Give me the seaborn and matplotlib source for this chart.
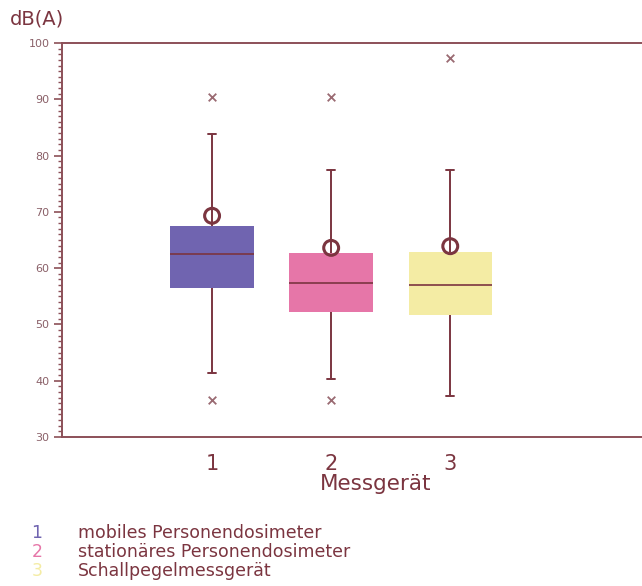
import matplotlib
matplotlib.use("Agg")
import matplotlib.pyplot as plt
from matplotlib.ticker import MultipleLocator
import seaborn as sns
import pandas as pd

sns.set_theme(style="white")
plt.rcParams["font.family"] = ["DejaVu Sans"]

# Summary statistics per measuring device (dB(A))
devices = ["1", "2", "3"]
device_names = ["mobiles Personendosimeter",
                "stationäres Personendosimeter",
                "Schallpegelmessgerät"]
whisker_low = [41.4, 40.3, 37.3]
q1 = [56.5, 52.2, 51.7]
median = [62.5, 57.4, 57.0]
q3 = [67.5, 62.7, 62.9]
whisker_high = [83.8, 77.4, 77.4]
means = [69.3, 63.6, 63.9]
outlier_device = ["1", "1", "2", "2", "3"]
outlier_value = [90.4, 36.6, 90.4, 36.6, 97.3]

box_colors = ["#7064b0", "#e676a8", "#f4eca4"]
line_color = "#7b3540"
spine_color = "#8c5058"
tick_color = "#8a6068"

fig = plt.figure(figsize=(6.42, 5.86), dpi=100)
ax = fig.add_axes([0.0966, 0.2543, 0.9034, 0.6723])

stats = []
for i, d in enumerate(devices):
    stats.append(dict(label=d, whislo=whisker_low[i], q1=q1[i], med=median[i],
                      q3=q3[i], whishi=whisker_high[i], fliers=[]))
pos = list(range(len(devices)))
bp = ax.bxp(stats, positions=pos, widths=0.7, patch_artist=True,
            showfliers=False, manage_ticks=False,
            boxprops=dict(linewidth=0),
            medianprops=dict(color=line_color, linewidth=1.2),
            whiskerprops=dict(color=line_color, linewidth=1.4),
            capprops=dict(color=line_color, linewidth=1.4),
            capwidths=0.07)
for patch, c in zip(bp["boxes"], box_colors):
    patch.set_facecolor(c)
    patch.set_edgecolor(c)
for w in bp["whiskers"]:
    w.set_zorder(1)
for m in bp["medians"]:
    m.set_zorder(3)

mean_df = pd.DataFrame({"pos": pos, "mean": means})
sns.scatterplot(data=mean_df, x="pos", y="mean", ax=ax, marker="o", s=115,
                facecolor="none", edgecolor=line_color, linewidth=2.2,
                zorder=4, legend=False)

out_df = pd.DataFrame({"pos": [devices.index(d) for d in outlier_device],
                       "value": outlier_value})
sns.scatterplot(data=out_df, x="pos", y="value", ax=ax, marker="x", s=30,
                color="#9a6a72", linewidth=1.3, zorder=4, legend=False)

ax.set_xlim(-1.26, 3.61)
ax.set_ylim(30, 100)
ax.yaxis.set_major_locator(MultipleLocator(10))
ax.yaxis.set_minor_locator(MultipleLocator(1))
ax.set_xticks(pos)
ax.set_xticklabels(devices, fontsize=15, color=line_color)
ax.tick_params(axis="x", length=0, pad=12)
ax.tick_params(axis="y", which="major", direction="out", length=6, width=1.2,
               color=spine_color, labelsize=8, labelcolor=tick_color, pad=3,
               left=True)
ax.tick_params(axis="y", which="minor", direction="out", length=3, width=1.0,
               color=spine_color, left=True)
for side in ["left", "top", "bottom"]:
    ax.spines[side].set_color(spine_color)
    ax.spines[side].set_linewidth(1.4)
ax.spines["right"].set_visible(False)
ax.set_xlabel("Messgerät", fontsize=15.5, color=line_color)
ax.xaxis.set_label_coords(0.54, -37 / 394, transform=ax.transAxes)
ax.set_ylabel("")

fig.text(0.016, 0.968, "dB(A)", fontsize=14, color=line_color, va="center",
         ha="left")

legend_y = [533, 552, 571]
for i, (d, name) in enumerate(zip(devices, device_names)):
    y = 1 - legend_y[i] / 586
    fig.text(37 / 642, y, d, fontsize=12.5, color=box_colors[i],
             ha="center", va="center")
    fig.text(78 / 642, y, name, fontsize=12.5, color=line_color,
             ha="left", va="center")

fig.savefig("out.png", dpi=100)
